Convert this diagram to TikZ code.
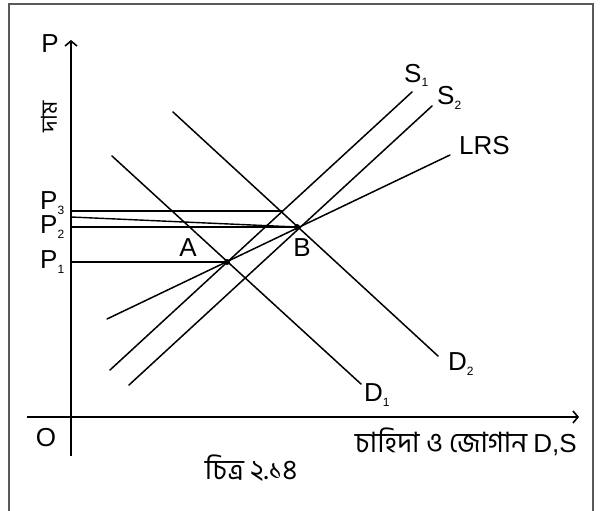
\documentclass[tikz,border=0pt]{standalone}
\usepackage{fontspec}
\setmainfont{Liberation Sans}
\newfontfamily\bnfont[Script=Bengali]{Hind Siliguri}
\usetikzlibrary{arrows.meta}
\newcommand{\sbs}[1]{\raisebox{-5pt}{\fontsize{12}{12}\selectfont #1}}
\begin{document}
\begin{tikzpicture}[x=1pt,y=-1pt,
  curve/.style={line width=1.5pt,line cap=round},
  axisline/.style={line width=1.6pt},
  guide/.style={line width=1.4pt},
  lbl/.style={font=\fontsize{26}{30}\selectfont,inner sep=0pt},
  bn/.style={font=\bnfont\fontsize{28}{32}\selectfont,inner sep=0pt},
  frameline/.style={draw=black!65,line width=2pt},
  pt/.style={circle,fill=black,inner sep=0pt,minimum size=6pt}]
\useasboundingbox (0,0) rectangle (600,511);
% frame
\draw[frameline] (9,511) -- (9,4) -- (593,4) -- (593,511);
% axes
\coordinate (ybot) at (71,456);
\coordinate (ytop) at (71,40);
\coordinate (xl) at (27,417);
\coordinate (xr) at (579,417);
\draw[axisline,-{Straight Barb[length=5pt,width=12pt]}] (ybot) -- (ytop);
\draw[axisline,-{Straight Barb[length=5pt,width=12pt]}] (xl) -- (xr);
\node[lbl] (Plab) at (50,44) {P};
\node[lbl] (Olab) at (46,438) {O};
\node[bn,rotate=90,font=\bnfont\fontsize{22}{26}\selectfont] (dam) at (49,117) {দাম};
\node[bn,anchor=east] (xlab) at (577,442) {চাহিদা ও জোগান \fontspec{Liberation Sans}\fontsize{26}{30}\selectfont D,S};
\node[bn] (cap) at (251,468) {চিত্র ২.১৪};
% equilibrium points
\node[pt] (A) at (227,262) {};
\node[pt] (B) at (297,227) {};
\coordinate (C) at (282,211);
\coordinate (P3) at (71,211);
\coordinate (P3s) at (71,217);
\coordinate (P2) at (71,227);
\coordinate (P1) at (71,262);
\draw[guide] (P3) -- (C);
\draw[guide] (P3s) -- (B.center);
\draw[guide] (P2) -- (B.center);
\draw[guide] (P1) -- (A.center);
% curves
\coordinate (d1a) at (112,156); \coordinate (d1b) at (361,384);
\coordinate (d2a) at (173,112); \coordinate (d2b) at (438,356);
\coordinate (s1a) at (110,370); \coordinate (s1b) at (412,92);
\coordinate (s2a) at (129,385); \coordinate (s2b) at (432,106);
\coordinate (la) at (107,319); \coordinate (lb) at (450,155);
\draw[curve] (d1a) -- (d1b);
\draw[curve] (d2a) -- (d2b);
\draw[curve] (s1a) -- (s1b);
\draw[curve] (s2a) -- (s2b);
\draw[curve] (la) -- (lb);
% labels
\node[lbl] (Alab) at (188,248) {A};
\node[lbl] (Blab) at (302,248) {B};
\node[lbl,anchor=base west] (P3lab) at (40,209) {P\sbs{3}};
\node[lbl,anchor=base west] (P2lab) at (40,233) {P\sbs{2}};
\node[lbl,anchor=base west] (P1lab) at (40,268) {P\sbs{1}};
\node[lbl,anchor=base west] (S1lab) at (404,82) {S\sbs{1}};
\node[lbl,anchor=base west] (S2lab) at (437,105) {S\sbs{2}};
\node[lbl,anchor=base west] (LRSlab) at (459,154) {LRS};
\node[lbl,anchor=base west] (D2lab) at (448,370) {D\sbs{2}};
\node[lbl,anchor=base west] (D1lab) at (364,401) {D\sbs{1}};
\end{tikzpicture}
\end{document}
